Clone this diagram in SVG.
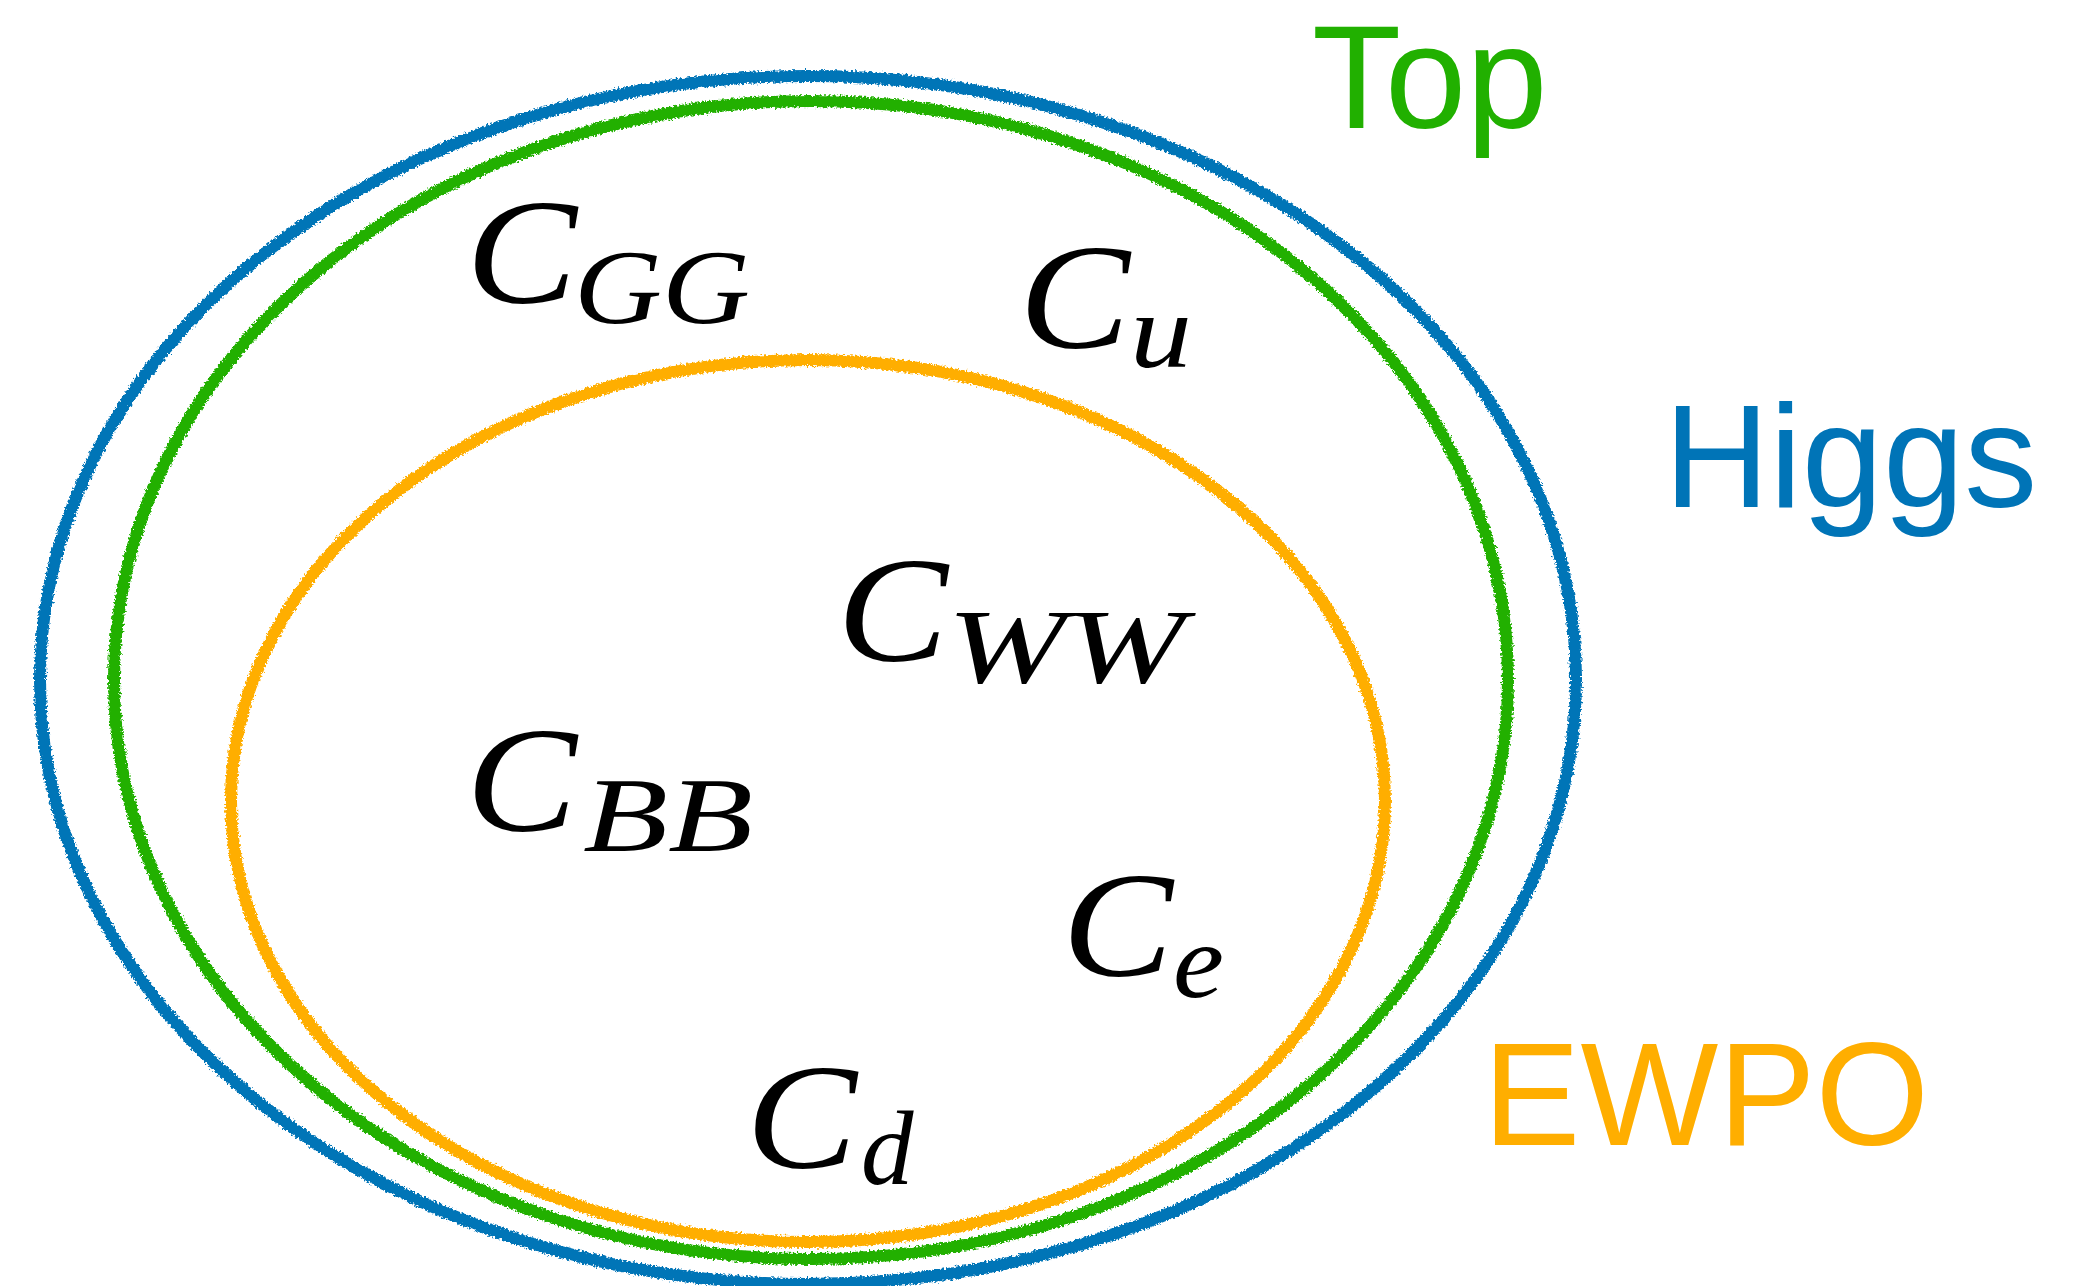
<svg xmlns="http://www.w3.org/2000/svg" width="2090" height="1286" viewBox="0 0 2090 1286">
  <defs>
    <filter id="pencil" x="-3%" y="-3%" width="106%" height="106%">
      <feTurbulence type="fractalNoise" baseFrequency="0.45" numOctaves="2" seed="7" result="n"/>
      <feDisplacementMap in="SourceGraphic" in2="n" scale="6" xChannelSelector="R" yChannelSelector="G"/>
    </filter>
    <style>
      .set { fill: none; stroke-width: 12; filter: url(#pencil); }
      .blue { stroke: #0074b7; }
      .green { stroke: #21b000; }
      .orange { stroke: #ffae00; }
      .name { font-family: "Liberation Sans", Arial, Helvetica, sans-serif; font-size: 146px; }
      .math { font-family: "Liberation Serif", "Times New Roman", serif; font-style: italic; fill: #000; }
      .main { font-size: 150px; }
      .sub { font-size: 105px; }
    </style>
  </defs>
  <rect width="2090" height="1286" fill="#ffffff"/>

  <g id="set-higgs">
    <ellipse class="set blue" cx="808" cy="680" rx="768" ry="604"/>
    <text class="name" x="1664" y="507" fill="#0074b7">Higgs</text>
  </g>
  <g id="set-top">
    <ellipse class="set green" cx="811" cy="680" rx="697" ry="579"/>
    <text class="name" x="1312" y="128" fill="#21b000">Top</text>
  </g>
  <g id="set-ewpo">
    <ellipse class="set orange" cx="808" cy="801" rx="577" ry="441"/>
    <text class="name" x="1483" y="1145" fill="#ffae00">EWPO</text>
  </g>

  <g id="c-gg">
    <text class="math main" x="466" y="303" textLength="111" lengthAdjust="spacingAndGlyphs">C</text>
    <text class="math sub" x="574" y="323" textLength="176" lengthAdjust="spacingAndGlyphs">GG</text>
  </g>
  <g id="c-u">
    <text class="math main" x="1019" y="348" textLength="111" lengthAdjust="spacingAndGlyphs">C</text>
    <text class="math sub" x="1130" y="367" textLength="62" lengthAdjust="spacingAndGlyphs">u</text>
  </g>
  <g id="c-ww">
    <text class="math main" x="837" y="661" textLength="111" lengthAdjust="spacingAndGlyphs">C</text>
    <text class="math sub" x="947" y="682" textLength="238" lengthAdjust="spacingAndGlyphs">WW</text>
  </g>
  <g id="c-bb">
    <text class="math main" x="466" y="831" textLength="111" lengthAdjust="spacingAndGlyphs">C</text>
    <text class="math sub" x="583" y="851" textLength="170" lengthAdjust="spacingAndGlyphs">BB</text>
  </g>
  <g id="c-e">
    <text class="math main" x="1062" y="976" textLength="111" lengthAdjust="spacingAndGlyphs">C</text>
    <text class="math sub" x="1173" y="997" textLength="51" lengthAdjust="spacingAndGlyphs">e</text>
  </g>
  <g id="c-d">
    <text class="math main" x="746" y="1168" textLength="111" lengthAdjust="spacingAndGlyphs">C</text>
    <text class="math sub" x="861" y="1184">d</text>
  </g>
</svg>
